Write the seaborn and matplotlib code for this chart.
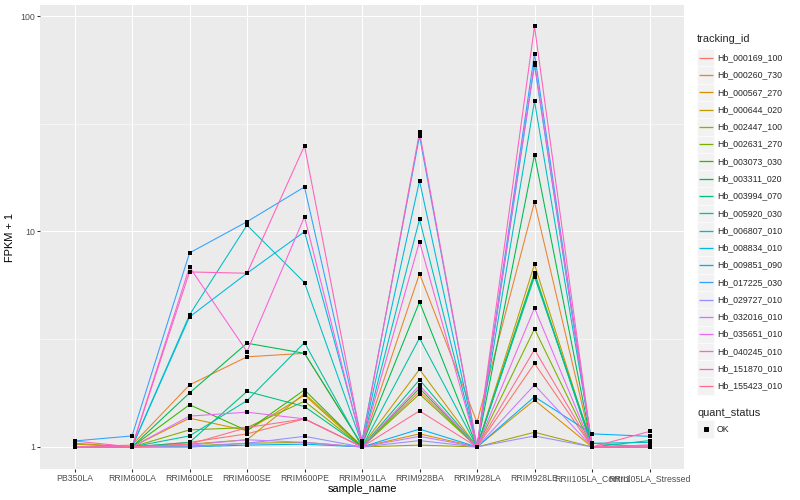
import matplotlib
matplotlib.use("Agg")
import matplotlib.pyplot as plt
import pandas as pd
import seaborn as sns
from matplotlib.patches import Rectangle
from matplotlib.ticker import FixedLocator

samples = ["PB350LA", "RRIM600LA", "RRIM600LE", "RRIM600SE", "RRIM600PE",
           "RRIM901LA", "RRIM928BA", "RRIM928LA", "RRIM928LE",
           "RRII105LA_Control", "RRII105LA_Stressed"]

genes = ["Hb_000169_100", "Hb_000260_730", "Hb_000567_270", "Hb_000644_020",
         "Hb_002447_100", "Hb_002631_270", "Hb_003073_030", "Hb_003311_020",
         "Hb_003994_070", "Hb_005920_030", "Hb_006807_010", "Hb_008834_010",
         "Hb_009851_090", "Hb_017225_030", "Hb_029727_010", "Hb_032016_010",
         "Hb_035651_010", "Hb_040245_010", "Hb_151870_010", "Hb_155423_010"]

# FPKM + 1, one row per gene, columns follow samples
hb_000169_100 = [1.00, 1.00, 1.05, 1.15, 1.35, 1.00, 1.81, 1.00, 2.44, 1.00, 1.02]
hb_000260_730 = [1.00, 1.02, 1.94, 2.62, 2.72, 1.02, 6.37, 1.30, 13.7, 1.00, 1.00]
hb_000567_270 = [1.00, 1.00, 1.36, 1.19, 1.74, 1.00, 1.15, 1.00, 1.65, 1.00, 1.00]
hb_000644_020 = [1.04, 1.00, 1.03, 1.08, 1.77, 1.01, 2.29, 1.00, 7.04, 1.00, 1.00]
hb_002447_100 = [1.03, 1.00, 1.01, 1.04, 1.05, 1.00, 1.02, 1.00, 1.17, 1.00, 1.00]
hb_002631_270 = [1.00, 1.00, 1.20, 1.23, 1.63, 1.00, 1.76, 1.00, 3.53, 1.00, 1.00]
hb_003073_030 = [1.00, 1.00, 1.57, 1.19, 1.84, 1.00, 1.87, 1.00, 6.44, 1.00, 1.00]
hb_003311_020 = [1.00, 1.00, 1.78, 3.03, 2.72, 1.02, 4.71, 1.00, 22.7, 1.00, 1.00]
hb_003994_070 = [1.00, 1.00, 1.05, 1.81, 1.54, 1.00, 2.05, 1.00, 6.17, 1.04, 1.00]
hb_005920_030 = [1.00, 1.00, 1.125, 1.64, 3.05, 1.00, 3.20, 1.00, 6.30, 1.00, 1.07]
hb_006807_010 = [1.00, 1.00, 4.10, 10.7, 5.79, 1.03, 11.4, 1.00, 40.3, 1.04, 1.05]
hb_008834_010 = [1.00, 1.00, 4.01, 6.40, 9.98, 1.05, 17.2, 1.00, 59.3, 1.00, 1.00]
hb_009851_090 = [1.00, 1.00, 1.00, 1.02, 1.03, 1.00, 1.21, 1.00, 1.71, 1.15, 1.12]
hb_017225_030 = [1.066, 1.125, 7.95, 11.1, 16.1, 1.07, 27.7, 1.00, 66.8, 1.00, 1.00]
hb_029727_010 = [1.00, 1.00, 1.00, 1.04, 1.12, 1.00, 1.07, 1.00, 1.125, 1.00, 1.00]
hb_032016_010 = [1.00, 1.00, 1.02, 1.08, 1.05, 1.00, 1.12, 1.00, 1.94, 1.00, 1.00]
hb_035651_010 = [1.00, 1.00, 1.39, 1.45, 1.35, 1.00, 1.93, 1.00, 4.42, 1.00, 1.00]
hb_040245_010 = [1.00, 1.00, 6.84, 2.77, 11.7, 1.02, 8.97, 1.00, 60.7, 1.00, 1.02]
hb_151870_010 = [1.066, 1.00, 6.49, 6.40, 25.0, 1.04, 28.9, 1.00, 89.6, 1.00, 1.18]
hb_155423_010 = [1.00, 1.00, 1.03, 1.23, 1.35, 1.00, 1.47, 1.00, 2.83, 1.00, 1.00]

values = [hb_000169_100, hb_000260_730, hb_000567_270, hb_000644_020,
          hb_002447_100, hb_002631_270, hb_003073_030, hb_003311_020,
          hb_003994_070, hb_005920_030, hb_006807_010, hb_008834_010,
          hb_009851_090, hb_017225_030, hb_029727_010, hb_032016_010,
          hb_035651_010, hb_040245_010, hb_151870_010, hb_155423_010]

# ggplot default hue palette for 20 levels
colors = ["#F8766D", "#EA8331", "#D89000", "#C09B00", "#A3A500", "#7CAE00",
          "#39B600", "#00BB4E", "#00BF7D", "#00C1A3", "#00BFC4", "#00BAE0",
          "#00B0F6", "#35A2FF", "#9590FF", "#C77CFF", "#E76BF3", "#FA62DB",
          "#FF62BC", "#FF6C91"]

rows = []
for g, vals in zip(genes, values):
    for s, v in zip(samples, vals):
        rows.append({"tracking_id": g, "sample_name": s, "fpkm": v})
df = pd.DataFrame(rows)

sns.set_style("darkgrid", {"axes.facecolor": "#EBEBEB", "grid.color": "white"})
plt.rcParams["font.family"] = ["Liberation Sans", "DejaVu Sans"]

fig = plt.figure(figsize=(800 / 72, 500 / 72), dpi=72)
ax = fig.add_axes([40 / 800, 31 / 500, 644 / 800, 464 / 500])

sns.lineplot(data=df, x="sample_name", y="fpkm", hue="tracking_id",
             palette=colors, linewidth=1.07, legend=False, sort=False,
             estimator=None, ax=ax)
sns.scatterplot(data=df, x="sample_name", y="fpkm", color="black",
                marker="s", s=11, linewidth=0, legend=False, ax=ax, zorder=5)

ax.set_yscale("log")
ax.set_ylim(0.79, 112.5)
ax.set_xlim(-0.6, len(samples) - 0.4)
ax.yaxis.set_major_locator(FixedLocator([1, 10, 100]))
ax.set_yticklabels(["1", "10", "100"])
ax.yaxis.set_minor_locator(FixedLocator([10 ** 0.5, 10 ** 1.5]))
ax.grid(which="major", color="white", linewidth=1.07)
ax.grid(which="minor", axis="y", color="white", linewidth=0.53)
ax.tick_params(which="major", length=2.75, width=1.07, color="#333333",
               labelcolor="#4D4D4D", labelsize=8.8, pad=2.2,
               left=True, bottom=True)
ax.tick_params(which="minor", length=0)
for sp in ax.spines.values():
    sp.set_visible(False)
ax.set_xlabel("sample_name", fontsize=11, color="black", labelpad=1)
ax.set_ylabel("FPKM + 1", fontsize=11, color="black", labelpad=5)

# legend drawn in pixel coordinates, ggplot style
lg = fig.add_axes([0, 0, 1, 1], facecolor="none")
lg.set_xlim(0, 800)
lg.set_ylim(500, 0)
lg.axis("off")
lg.text(697, 39, "tracking_id", fontsize=11, va="center", ha="left")
for i, (g, c) in enumerate(zip(genes, colors)):
    yc = 57.7 + 17.28 * i
    lg.add_patch(Rectangle((697, yc - 8.6), 17.3, 17.3, facecolor="#F2F2F2",
                           edgecolor="white", linewidth=0.5, zorder=1))
    lg.plot([699, 713], [yc, yc], color=c, linewidth=1.3, zorder=3,
            solid_capstyle="butt")
    lg.text(717, yc, g, fontsize=8.8, va="center", ha="left")
lg.text(697, 413, "quant_status", fontsize=11, va="center", ha="left")
lg.add_patch(Rectangle((697, 429 - 8.6), 17.3, 17.3, facecolor="#F2F2F2",
                       edgecolor="white", linewidth=0.5))
lg.plot([705.6], [429], marker="s", color="black", markersize=3.5)
lg.text(717, 429, "OK", fontsize=8.8, va="center", ha="left")

fig.savefig("out.png", dpi=72)
